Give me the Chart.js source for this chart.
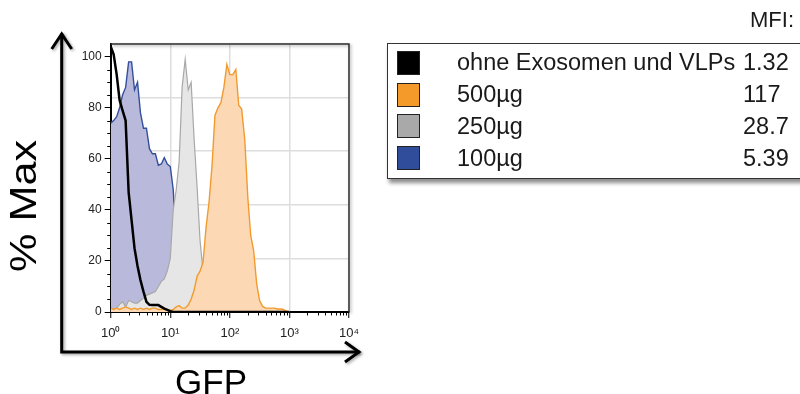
<!DOCTYPE html>
<html>
<head>
<meta charset="utf-8">
<script src="https://cdn.jsdelivr.net/npm/chart.js@4.4.1/dist/chart.umd.min.js"></script>
<style>
  html, body { margin: 0; padding: 0; background: #fff; overflow: hidden; }
  #wrap { position: relative; width: 800px; height: 394px; font-family: "Liberation Sans", Arial, sans-serif; color: #1a1a1a; }
  #chart { position: absolute; left: 0; top: 0; }
  .title { position: absolute; white-space: nowrap; line-height: 1; color: #000; }
  #ytitle { left: 24px; top: 206px; font-size: 36px; transform: translate(-50%, -50%) rotate(-90deg) scaleX(1.2); }
  #xtitle { left: 211px; top: 380.5px; font-size: 35px; transform: translate(-50%, -50%); }
  #mfi { position: absolute; left: 750px; top: 7px; font-size: 22px; }
  #legend { position: absolute; left: 387px; top: 43px; width: 440px; height: 136px; box-sizing: border-box;
            border: 1.5px solid #333; box-shadow: 2px 4px 4px rgba(0,0,0,0.45); background: #fff; padding-top: 3px; }
  .row { display: flex; align-items: center; height: 31.8px; font-size: 23.5px; white-space: nowrap; }
  .sw { width: 23px; height: 24px; box-sizing: border-box; border: 1px solid #222; margin-left: 9px; margin-right: 37px; flex: none; }
  .name { width: 286px; flex: none; }
</style>
</head>
<body>
<div id="wrap">
  <canvas id="chart" width="800" height="394"></canvas>
  <div class="title" id="ytitle">% Max</div>
  <div class="title" id="xtitle">GFP</div>
  <div id="mfi">MFI:</div>
  <div id="legend"></div>
</div>
<script>
/* ---------- data ---------- */
// GFP channel bins (0.05 decade steps, 10^0 .. 10^3)
const channel = [1.00, 1.12, 1.26, 1.41, 1.58, 1.78, 2.00, 2.24, 2.51, 2.82,
                 3.16, 3.55, 3.98, 4.47, 5.01, 5.62, 6.31, 7.08, 7.94, 8.91,
                 10.0, 11.2, 12.6, 14.1, 15.8, 17.8, 20.0, 22.4, 25.1, 28.2,
                 31.6, 35.5, 39.8, 44.7, 50.1, 56.2, 63.1, 70.8, 79.4, 89.1,
                 100, 112, 126, 141, 158, 178, 200, 224, 251, 282,
                 316, 355, 398, 447, 501, 562, 631, 708, 794, 891, 1000];

// % Max per bin
const ohneVals = [104, 101, 93, 83, 79, 75, 47, 36, 25, 18,
                  12.5, 8, 4, 2.8, 2.7, 2.7, 2.7, 2, 1.3, 0.8,
                  0.3, 0, 0, 0, 0, 0, 0, 0, 0, 0,
                  0, 0, 0, 0, 0, 0, 0, 0, 0, 0,
                  0, 0, 0, 0, 0, 0, 0, 0, 0, 0,
                  0, 0, 0, 0, 0, 0, 0, 0, 0, 0, 0];
const ug500Vals = [1.5, 1, 1.5, 1, 1.5, 2, 1.5, 1, 1.5, 1,
                   1.5, 1, 1.5, 1, 1.5, 1.5, 1, 1, 1.5, 1,
                   0.5, 1, 2, 2.5, 1.5, 1.5, 2.7, 5, 8.5, 14,
                   16, 19.5, 33, 43, 57, 77, 80, 82, 88, 97,
                   93, 93, 95, 81, 79.5, 67.5, 45, 30, 24, 11,
                   4.5, 2.2, 1.5, 1.5, 1.5, 1.5, 1.2, 1.2, 1, 0.3, 0];
const ug250Vals = [0.5, 1, 1.5, 3, 4, 2, 4.5, 4, 3.5, 3.5,
                   4.5, 5.5, 6.5, 7, 7.5, 8, 10, 12, 13, 16,
                   21, 40, 48, 59, 88, 99, 87, 90, 68, 49,
                   28, 16, 8, 3, 1, 0, 0, 0, 0, 0,
                   0, 0, 0, 0, 0, 0, 0, 0, 0, 0,
                   0, 0, 0, 0, 0, 0, 0, 0, 0, 0, 0];
const ug100Vals = [74, 75, 76.5, 80, 85, 88, 98, 98, 87, 90,
                   78, 72, 72, 64, 62, 62, 57.5, 58, 60.5, 58,
                   57, 48, 26, 10, 3, 1, 0, 0, 0, 0,
                   0, 0, 0, 0, 0, 0, 0, 0, 0, 0,
                   0, 0, 0, 0, 0, 0, 0, 0, 0, 0,
                   0, 0, 0, 0, 0, 0, 0, 0, 0, 0, 0];

const seriesNames = ['ohne Exosomen und VLPs', '500µg', '250µg', '100µg'];
const mfiValues   = ['1.32', '117', '28.7', '5.39'];
const swatchColors = ['#000000', '#f39a2b', '#a9a9a9', '#2f4d9b'];

const xTickLabels = ['10⁰', '10¹', '10²', '10³', '10⁴'];
const yTickLabels = ['0', '20', '40', '60', '80', '100'];

/* ---------- helpers ---------- */
const FONT = '"Liberation Sans", Arial, sans-serif';
const isDecade = v => Math.abs(Math.log10(v) - Math.round(Math.log10(v))) < 1e-9;

function series(label, vals, line, fill, width) {
  return {
    label,
    data: channel.map((c, i) => ({ x: c, y: vals[i] })),
    borderColor: line,
    backgroundColor: fill || 'transparent',
    fill: fill ? 'origin' : false,
    borderWidth: width,
    pointRadius: 0,
    tension: 0
  };
}

// minor ticks, plot frame and the big axis arrows
const decor = {
  id: 'decor',
  afterDraw(chart) {
    const { ctx, chartArea: a, scales } = chart;
    ctx.save();
    ctx.strokeStyle = '#000';
    ctx.lineWidth = 1;
    ctx.beginPath();
    scales.y.ticks.forEach(t => {
      if (t.value % 20 !== 0) {
        const py = Math.round(scales.y.getPixelForValue(t.value)) + 0.5;
        ctx.moveTo(a.left - 3.5, py); ctx.lineTo(a.left, py);
      }
    });
    scales.x.ticks.forEach(t => {
      if (!isDecade(t.value)) {
        const px = Math.round(scales.x.getPixelForValue(t.value)) + 0.5;
        ctx.moveTo(px, a.bottom); ctx.lineTo(px, a.bottom + 3.5);
      }
    });
    ctx.stroke();

    ctx.shadowColor = 'rgba(0,0,0,0.35)';
    ctx.shadowBlur = 3;
    ctx.shadowOffsetX = 1.5;
    ctx.shadowOffsetY = 1.5;
    ctx.strokeStyle = '#333';
    ctx.lineWidth = 1.5;
    ctx.beginPath();
    ctx.moveTo(a.left, a.top); ctx.lineTo(a.right, a.top); ctx.lineTo(a.right, a.bottom);
    ctx.stroke();

    // arrows
    const ox = a.left - 49, oy = a.bottom + 40;
    ctx.strokeStyle = '#000';
    ctx.lineWidth = 3;
    ctx.lineCap = 'square';
    ctx.beginPath();
    ctx.moveTo(ox, oy); ctx.lineTo(ox, a.top - 9);
    ctx.moveTo(ox, oy); ctx.lineTo(a.right + 9, oy);
    ctx.stroke();
    ctx.lineCap = 'butt';
    ctx.beginPath();
    ctx.moveTo(ox - 10, a.top + 5); ctx.lineTo(ox, a.top - 10); ctx.lineTo(ox + 10, a.top + 5);
    ctx.moveTo(a.right - 4, oy - 10); ctx.lineTo(a.right + 10, oy); ctx.lineTo(a.right - 4, oy + 10);
    ctx.stroke();
    ctx.restore();
  }
};

/* ---------- legend ---------- */
const legendEl = document.getElementById('legend');
seriesNames.forEach((name, i) => {
  const row = document.createElement('div');
  row.className = 'row';
  row.innerHTML = `<div class="sw" style="background:${swatchColors[i]}"></div>` +
                  `<div class="name">${name}</div><div>${mfiValues[i]}</div>`;
  legendEl.appendChild(row);
});

/* ---------- chart ---------- */
new Chart(document.getElementById('chart').getContext('2d'), {
  type: 'line',
  data: {
    datasets: [
      series(seriesNames[0], ohneVals, '#000000', null, 2.5),
      series(seriesNames[1], ug500Vals, '#f29a2e', '#fcd9b4', 1.4),
      series(seriesNames[2], ug250Vals, '#a8a8a8', '#e6e6e6', 1.2),
      series(seriesNames[3], ug100Vals, '#334f9e', '#b9badb', 1.4)
    ]
  },
  options: {
    responsive: false,
    animation: false,
    devicePixelRatio: 1,
    layout: { padding: { left: 0, top: 44, right: 451, bottom: 0 } },
    plugins: { legend: { display: false }, tooltip: { enabled: false } },
    scales: {
      x: {
        type: 'logarithmic',
        min: 1,
        max: 10000,
        afterBuildTicks: s => {
          const t = [];
          for (let e = 0; e < 4; e++) for (let m = 1; m < 10; m++) t.push({ value: m * Math.pow(10, e) });
          t.push({ value: 10000 });
          s.ticks = t;
        },
        afterFit: s => { s.height = 82; },
        ticks: {
          autoSkip: false,
          maxRotation: 0,
          padding: 8,
          color: '#222',
          font: { family: FONT, size: 13 },
          callback: v => isDecade(v) ? xTickLabels[Math.round(Math.log10(v))] : ''
        },
        grid: {
          lineWidth: 1.5,
          tickLength: 6,
          tickWidth: 1,
          color: c => (c.tick && isDecade(c.tick.value)) ? '#dddddd' : 'rgba(0,0,0,0)',
          tickColor: c => (c.tick && isDecade(c.tick.value)) ? '#000' : 'rgba(0,0,0,0)'
        },
        border: { display: true, color: '#000', width: 2 }
      },
      y: {
        min: 0,
        max: 105,
        afterBuildTicks: s => {
          const t = [];
          for (let v = 0; v <= 100; v += 5) t.push({ value: v });
          s.ticks = t;
        },
        afterFit: s => { s.width = 110.7; },
        ticks: {
          autoSkip: false,
          padding: 3,
          color: '#222',
          font: { family: FONT, size: 12 },
          callback: v => v % 20 === 0 ? yTickLabels[v / 20] : ''
        },
        grid: {
          drawOnChartArea: false,
          tickLength: 6,
          tickWidth: 1,
          tickColor: c => (c.tick && c.tick.value % 20 === 0) ? '#000' : 'rgba(0,0,0,0)'
        },
        border: { display: true, color: '#000', width: 2 }
      },
      yg: {
        position: 'right',
        min: 0,
        max: 5,
        afterFit: s => { s.width = 0; },
        ticks: { display: false, stepSize: 1 },
        grid: { color: '#dddddd', lineWidth: 1.5, drawTicks: false },
        border: { display: false }
      }
    }
  },
  plugins: [decor]
});
</script>
</body>
</html>
